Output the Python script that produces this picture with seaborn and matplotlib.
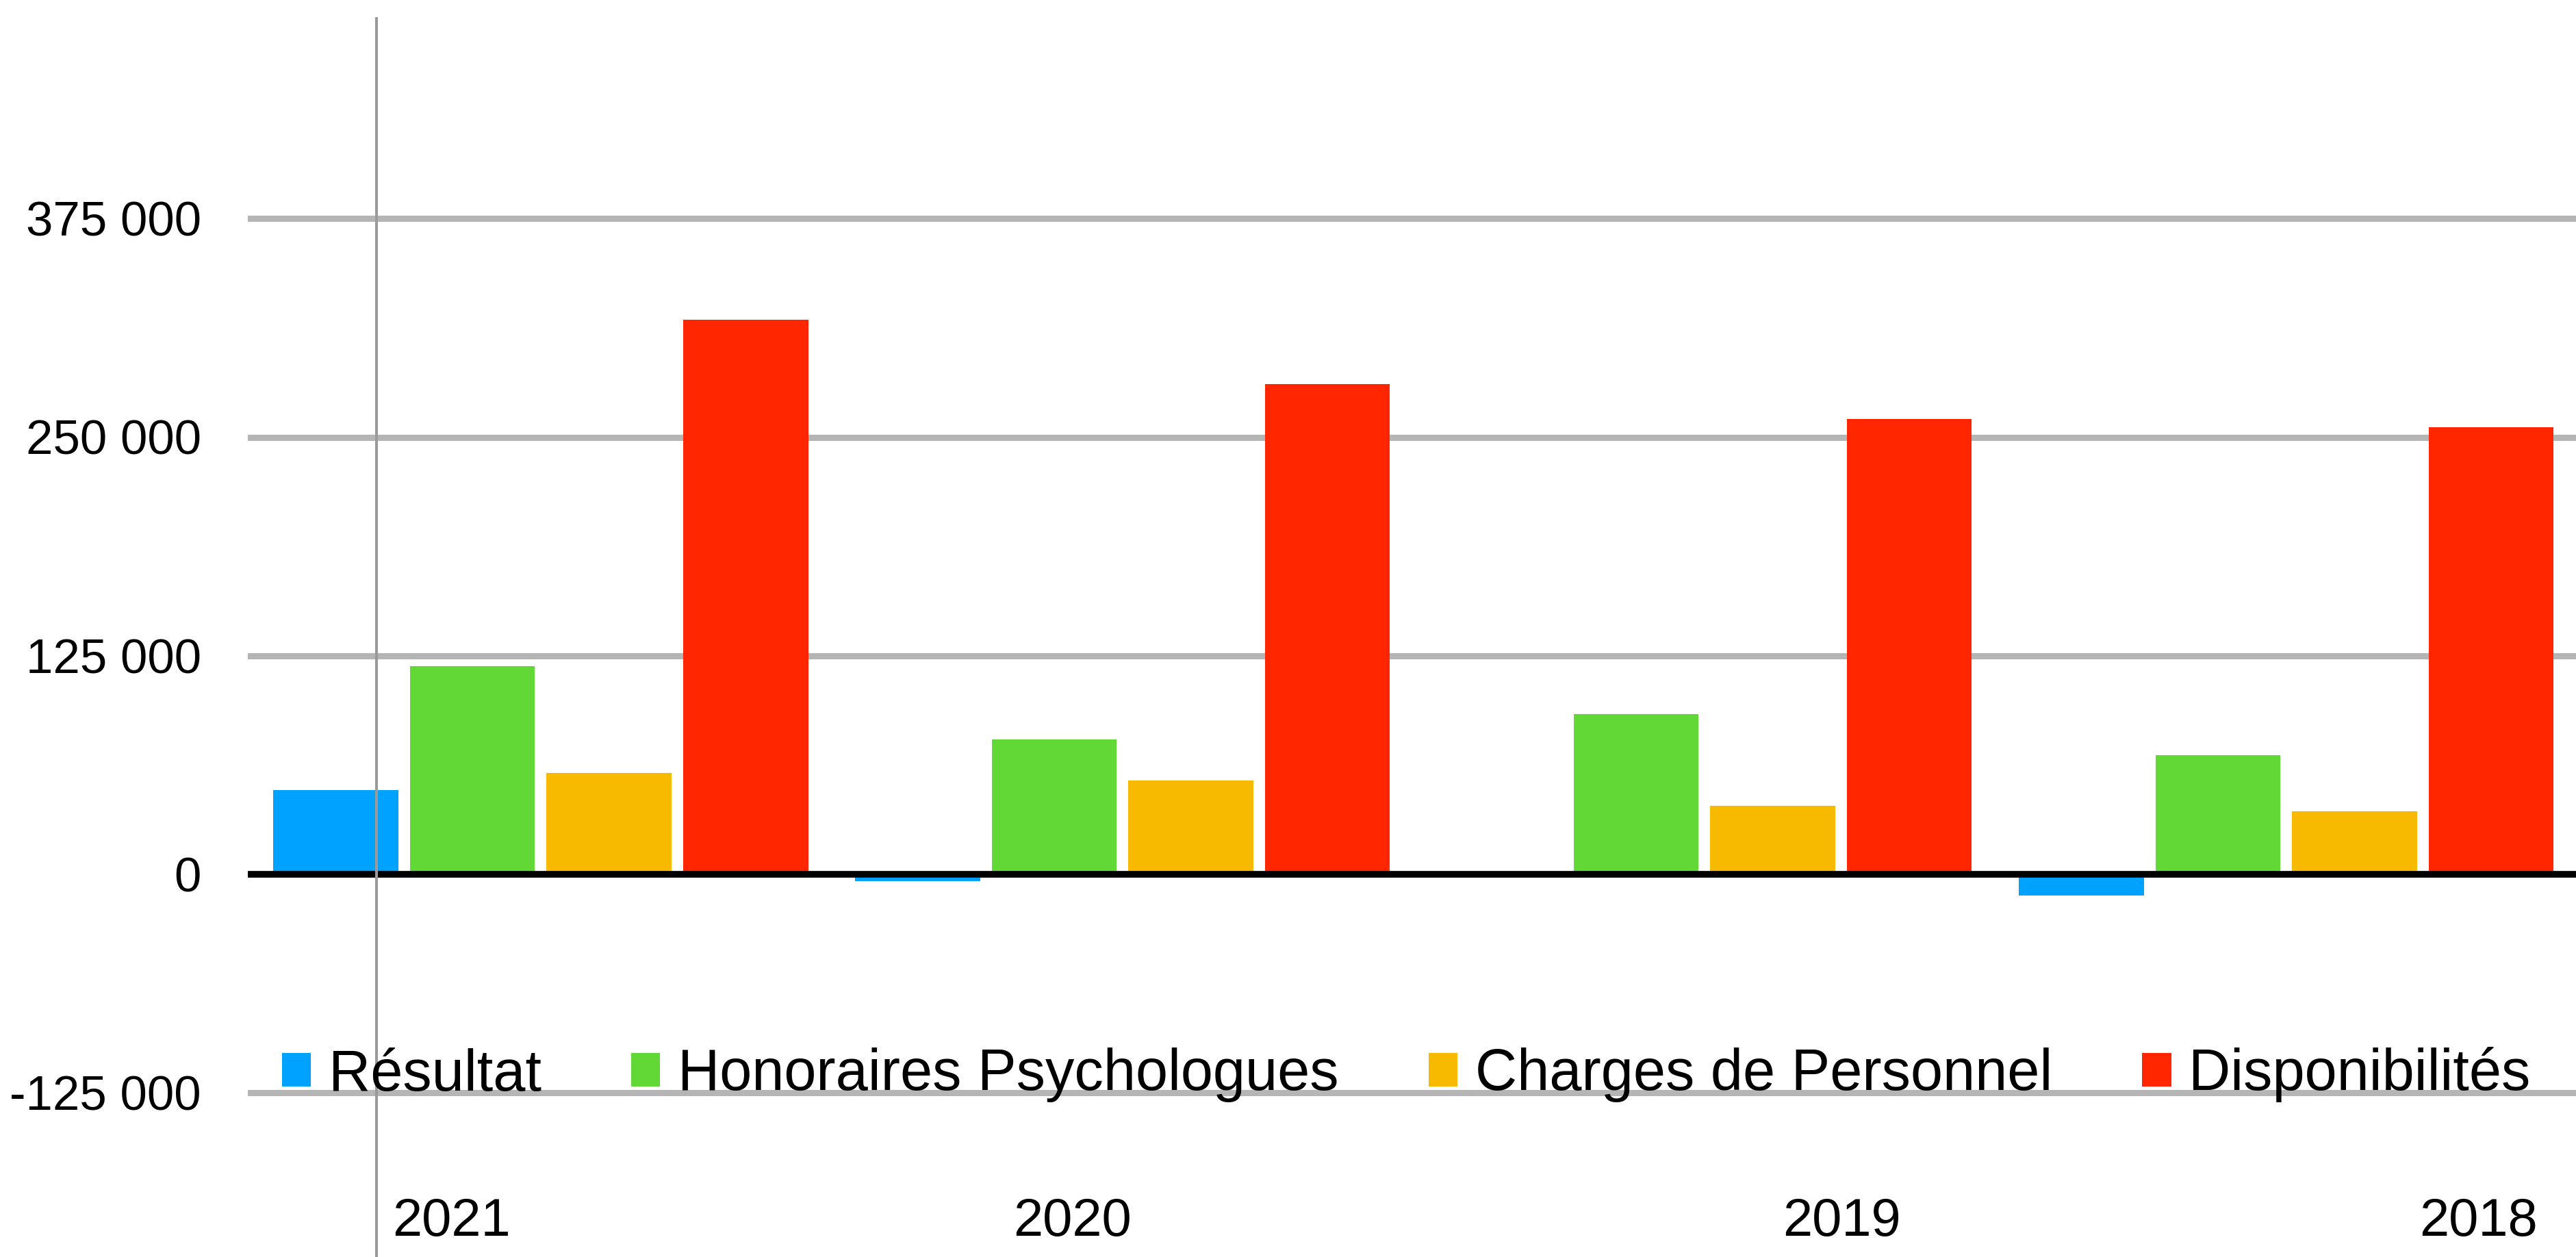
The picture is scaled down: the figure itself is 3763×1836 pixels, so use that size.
import pandas as pd
import matplotlib.pyplot as plt
import seaborn as sns
from matplotlib.transforms import blended_transform_factory

# === Data ===
years = ["2021", "2020", "2019", "2018"]
series = ["Résultat", "Honoraires Psychologues", "Charges de Personnel", "Disponibilités"]
resultat = [48000, -4000, 0, -12000]
honoraires = [119000, 77000, 91500, 68000]
charges = [58000, 53500, 39000, 36000]
disponibilites = [317000, 280500, 260500, 255500]
colors = ["#00A2FF", "#62D836", "#F7BA00", "#FF2600"]

y_ticks = [-125000, 0, 125000, 250000, 375000]
y_labels = ["-125 000", "0", "125 000", "250 000", "375 000"]
# year labels sit off-centre from their groups in the original
year_label_pos = [-0.154, 0.914, 2.236, 3.33]

rows = []
for name, vals in zip(series, [resultat, honoraires, charges, disponibilites]):
    for y, v in zip(years, vals):
        rows.append({"year": y, "serie": name, "value": v})
df = pd.DataFrame(rows)

# === Plot ===
sns.set_style("white")
plt.rcParams["font.family"] = ["Liberation Sans", "DejaVu Sans"]
plt.rcParams["text.color"] = "black"
plt.rcParams["ytick.color"] = "black"

fig = plt.figure(figsize=(37.63, 18.36), dpi=100)
ax = fig.add_axes([362 / 3763, 0.0, 1 - 362 / 3763, 1 - 25 / 1836])

sns.barplot(
    data=df, x="year", y="value", hue="serie", order=years, hue_order=series,
    palette=colors, saturation=1, width=0.939, gap=0.085, ax=ax, legend=True,
    linewidth=0,
)

ax.set_xlim(-0.5035, 3.498)
ax.set_ylim(-(1836 - 1277) / 2.554 * 1000, (1277 - 25) / 2.554 * 1000)

ax.set_yticks(y_ticks)
ax.set_yticklabels(y_labels)
ax.tick_params(axis="y", length=0, pad=49, labelsize=51, labelcolor="black")
ax.set_xticks([])
ax.set_xlabel("")
ax.set_ylabel("")
for s in ax.spines.values():
    s.set_visible(False)

ax.set_axisbelow(True)
ax.yaxis.grid(True, color="#b5b5b5", linewidth=6.5)
ax.axhline(0, color="black", linewidth=7, zorder=3)
ax.axvline(-0.282, color="#9a9a9a", linewidth=2.9, zorder=4)

trans = blended_transform_factory(ax.transData, ax.transAxes)
for pos, lab in zip(year_label_pos, years):
    ax.text(pos, 31 / 1836, lab, transform=trans, ha="center", va="baseline",
            fontsize=56, color="black")

handles, labels = ax.get_legend_handles_labels()
ax.legend(
    handles, labels, loc="center left", bbox_to_anchor=(412 / 3763, 266 / 1836),
    bbox_transform=fig.transFigure, ncol=4, frameon=False, fontsize=61,
    handlelength=0.5, handleheight=0.5, handletextpad=0.3, columnspacing=1.55,
    borderpad=0, borderaxespad=0, labelcolor="black",
)

plt.savefig("out.png", dpi=100)
plt.close()
